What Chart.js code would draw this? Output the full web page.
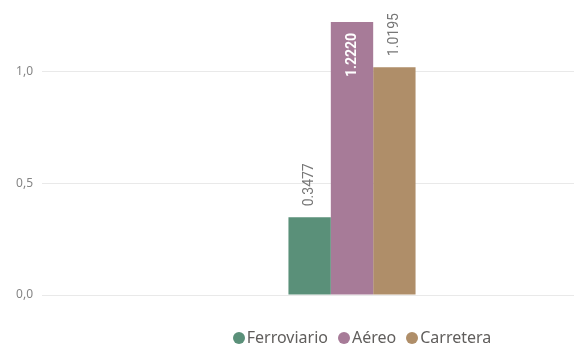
<!DOCTYPE html>
<html>
<head>
<meta charset="utf-8">
<script src="https://cdn.jsdelivr.net/npm/chart.js@4/dist/chart.umd.min.js"></script>
<style>
	body { margin: 0; overflow: hidden; background: #fff; width: 574px; height: 347px; }
	.wrap { position: relative; width: 704px; height: 347px; }
	.legend {
		position: absolute; left: 10px; top: 327px; width: 704px;
		text-align: center; font: 16px "Noto Sans", sans-serif; color: #605E5C;
		white-space: nowrap; line-height: 20px;
	}
	.legend span { display: inline-block; margin: 0 5px; }
	.legend i {
		display: inline-block; width: 12px; height: 12px; border-radius: 50%;
		margin-right: 2px; vertical-align: -1px;
	}
</style>
</head>
<body>
<div class="wrap">
	<canvas id="chart" width="704" height="347"></canvas>
	<div class="legend" id="legend"></div>
</div>
<script>
const categories = [''];
const seriesNames = ['Ferroviario', 'Aéreo', 'Carretera'];
const ferroviario = [0.3477];
const aereo = [1.2220];
const carretera = [1.0195];
const yTicks = [0, 0.5, 1.0];
const colors = ['#5A9079', '#A77B98', '#AF8E69'];

// value labels, rotated; above the bar, or inside it when it would run off the top
const valueLabels = {
	id: 'valueLabels',
	afterDatasetsDraw(chart) {
		const ctx = chart.ctx;
		ctx.save();
		chart.data.datasets.forEach((ds, i) => {
			const meta = chart.getDatasetMeta(i);
			meta.data.forEach((bar, j) => {
				const text = ds.data[j].toFixed(4);
				ctx.font = '14px Roboto';
				const w = ctx.measureText(text).width;
				let inside = bar.y - 11 - w < 0;
				ctx.save();
				ctx.translate(bar.x, bar.y);
				ctx.rotate(-Math.PI / 2);
				ctx.textBaseline = 'middle';
				if (inside) {
					ctx.font = 'bold 14px Roboto';
					ctx.fillStyle = '#fff';
					ctx.textAlign = 'right';
					ctx.fillText(text, -11, 0);
				} else {
					ctx.fillStyle = '#777';
					ctx.textAlign = 'left';
					ctx.fillText(text, 11, 0);
				}
				ctx.restore();
			});
		});
		ctx.restore();
	}
};

let chart = new Chart(
	document.getElementById('chart'),
	{
		type: 'bar',
		data: {
			labels: categories,
			datasets: [
				{ label: seriesNames[0], data: ferroviario, backgroundColor: colors[0] },
				{ label: seriesNames[1], data: aereo, backgroundColor: colors[1] },
				{ label: seriesNames[2], data: carretera, backgroundColor: colors[2] }
			]
		},
		options: {
			responsive: false,
			animation: false,
			categoryPercentage: 0.205,
			barPercentage: 1,
			layout: { padding: { top: 0, bottom: 52, right: 42, left: 0 } },
			plugins: { legend: { display: false }, tooltip: { enabled: false } },
			scales: {
				x: { display: false },
				y: {
					min: 0,
					max: 1.32,
					afterBuildTicks: axis => { axis.ticks = yTicks.map(v => ({ value: v })); },
					afterFit: axis => {
						axis.width = 42;
						axis.paddingTop = 0;
						axis.paddingBottom = 0;
					},
					border: { display: false },
					grid: { color: '#E9E9E9', drawTicks: false },
					ticks: {
						padding: 9,
						color: '#858585',
						font: { family: 'Noto Sans', size: 12 },
						callback: v => v.toFixed(1).replace('.', ',')
					}
				}
			}
		},
		plugins: [valueLabels]
	}
);

const legend = document.getElementById('legend');
seriesNames.forEach((name, i) => {
	const item = document.createElement('span');
	item.innerHTML = `<i style="background:${colors[i]}"></i>${name}`;
	legend.append(item);
});
</script>
</body>
</html>
